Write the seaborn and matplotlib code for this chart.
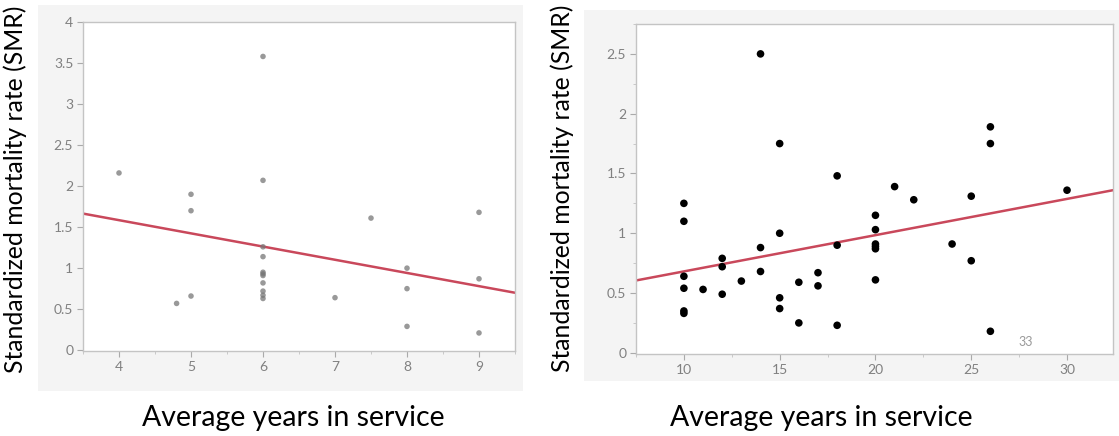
import matplotlib
matplotlib.use("Agg")
import matplotlib.pyplot as plt
from matplotlib.ticker import MultipleLocator, FixedLocator, FuncFormatter
from matplotlib.patches import Rectangle
import pandas as pd
import seaborn as sns

# ---------------- data ----------------
left_years = [4, 4.8, 5, 5, 5, 6, 6, 6, 6, 6, 6, 6, 6, 6, 6, 6,
              7, 7.5, 8, 8, 8, 9, 9, 9]
left_smr = [2.16, 0.57, 1.90, 1.70, 0.66, 3.58, 2.07, 1.26, 1.14, 0.95,
            0.93, 0.91, 0.82, 0.72, 0.67, 0.63, 0.64, 1.61, 1.00, 0.75,
            0.29, 1.68, 0.87, 0.21]
left_fit_x = [3.5, 9.5]
left_fit_y = [1.665, 0.70]
left_xticks = [4, 5, 6, 7, 8, 9]
left_yticks = [0, 0.5, 1, 1.5, 2, 2.5, 3, 3.5, 4]

right_years = [10, 10, 10, 10, 10, 10, 11, 12, 12, 12, 13, 14, 14, 14,
               15, 15, 15, 15, 16, 16, 17, 17, 18, 18, 18,
               20, 20, 20, 20, 20, 20, 21, 22, 24, 25, 25, 26, 26, 26, 30]
right_smr = [1.25, 1.10, 0.64, 0.54, 0.35, 0.33, 0.53, 0.79, 0.72, 0.49,
             0.60, 2.50, 0.88, 0.68, 1.75, 1.00, 0.46, 0.37, 0.59, 0.25,
             0.67, 0.56, 1.48, 0.90, 0.23, 1.15, 1.03, 0.91, 0.89, 0.87,
             0.61, 1.39, 1.28, 0.91, 1.31, 0.77, 1.89, 1.75, 0.18, 1.36]
right_fit_x = [7.5, 32.4]
right_fit_y = [0.605, 1.36]
right_xticks = [10, 15, 20, 25, 30]
right_yticks = [0, 0.5, 1, 1.5, 2, 2.5]
right_note = "33"

x_label = "Average years in service"
y_label = "Standardized mortality rate (SMR)"

# ---------------- style ----------------
sns.set_theme(style="white")
plt.rcParams["font.family"] = ["Lato", "DejaVu Sans"]

W, H = 1119, 436
fig = plt.figure(figsize=(W / 100, H / 100), dpi=100)
fig.patch.set_facecolor("white")

def px_rect(x0, y0, x1, y1):
    return [x0 / W, 1 - y1 / H, (x1 - x0) / W, (y1 - y0) / H]

# light gray panel backgrounds
for (x0, y0, x1, y1) in [(38, 5, 523, 391), (584, 10, 1119, 381)]:
    r = px_rect(x0, y0, x1, y1)
    fig.patches.append(Rectangle((r[0], r[1]), r[2], r[3], transform=fig.transFigure,
                                 facecolor="#f4f4f4", edgecolor="none", zorder=-5))

axL = fig.add_axes(px_rect(83, 22, 515, 351))
axR = fig.add_axes(px_rect(636, 24, 1113, 354))
axL.set_zorder(2)
axR.set_zorder(2)

dfL = pd.DataFrame({"years": left_years, "smr": left_smr})
dfR = pd.DataFrame({"years": right_years, "smr": right_smr})
fitL = pd.DataFrame({"years": left_fit_x, "smr": left_fit_y})
fitR = pd.DataFrame({"years": right_fit_x, "smr": right_fit_y})

line_color = "#c9485b"

sns.lineplot(data=fitL, x="years", y="smr", ax=axL, color=line_color, lw=1.8, zorder=2)
sns.scatterplot(data=dfL, x="years", y="smr", ax=axL, color="#777777", alpha=0.75,
                s=16, edgecolor="none", zorder=3)

sns.lineplot(data=fitR, x="years", y="smr", ax=axR, color=line_color, lw=1.8, zorder=2)
sns.scatterplot(data=dfR, x="years", y="smr", ax=axR, color="black",
                s=30, edgecolor="none", zorder=3)

axL.set_xlim(3.5, 9.5)
axL.set_ylim(-0.01, 4.0)
axR.set_xlim(7.5, 32.4)
axR.set_ylim(-0.01, 2.75)

axL.xaxis.set_major_locator(FixedLocator(left_xticks))
axL.yaxis.set_major_locator(FixedLocator(left_yticks))
axL.xaxis.set_minor_locator(MultipleLocator(0.5))
axR.xaxis.set_major_locator(FixedLocator(right_xticks))
axR.yaxis.set_major_locator(FixedLocator(right_yticks))
axR.xaxis.set_minor_locator(MultipleLocator(2.5))
axR.yaxis.set_minor_locator(MultipleLocator(0.25))

def fmt(v, pos=None):
    return "%g" % v

for ax in (axL, axR):
    ax.set_facecolor("white")
    ax.xaxis.set_major_formatter(FuncFormatter(fmt))
    ax.yaxis.set_major_formatter(FuncFormatter(fmt))
    for s in ax.spines.values():
        s.set_visible(True)
        s.set_color("#c4c4c4")
        s.set_linewidth(1.0)
    ax.tick_params(axis="both", which="major", direction="out", length=4, width=0.8,
                   color="#aaaaaa", labelcolor="#808080", labelsize=10, pad=3,
                   bottom=True, left=True)
    ax.tick_params(axis="both", which="minor", direction="out", length=2.5, width=0.7,
                   color="#c8c8c8", bottom=True, left=True)
    ax.set_xlabel(x_label, fontsize=20.5, color="black")
    ax.set_ylabel(y_label, fontsize=17.8, color="black")

axL.xaxis.set_label_coords(0.487, -0.204)
axL.yaxis.set_label_coords(-0.157, 0.49)
axR.xaxis.set_label_coords(0.389, -0.194)
axR.yaxis.set_label_coords(-0.155, 0.503)
for ax in (axL, axR):
    ax.xaxis.label.set_verticalalignment("center")
    ax.yaxis.label.set_verticalalignment("center")

axR.text(0.816, 0.036, right_note, transform=axR.transAxes, fontsize=9,
         color="#999999", ha="center", va="center")

fig.savefig("out.png", dpi=100, facecolor="white")
